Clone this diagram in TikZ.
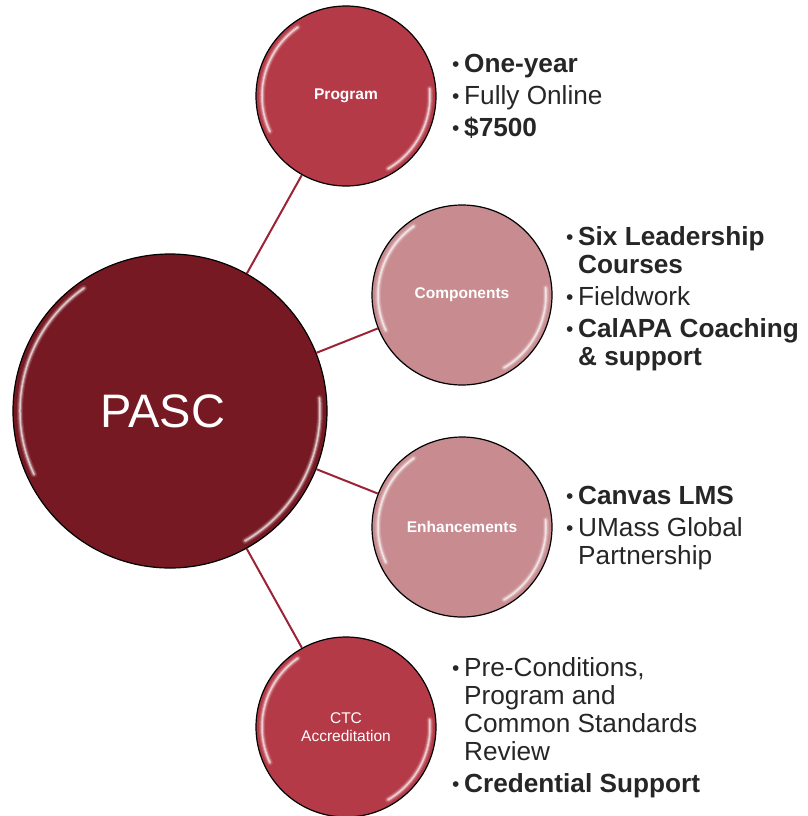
\documentclass[tikz,border=0pt]{standalone}
\usepackage{fontspec}
\setmainfont{Liberation Sans}
\usetikzlibrary{positioning}
\definecolor{maroon}{HTML}{761923}
\definecolor{rasp}{HTML}{B53A47}
\definecolor{dusty}{HTML}{C78B90}
\definecolor{linkred}{HTML}{9B2335}
\definecolor{ink}{HTML}{262626}
\newcommand\bul{\makebox[12pt][l]{\raisebox{1pt}{\fontsize{21}{21}\selectfont\textbullet}}}
\newcommand\ind{\hspace*{12pt}}
% white shine on the rim of a bubble: node, radius
\newcommand\gloss[2]{\foreach \w/\o in {6pt/.15,3.5pt/.3,1.5pt/.6} {\draw[shine, line width=\w, opacity=\o] ([shift={(125:#2)}]#1.center) arc (125:205:#2);\draw[shine, line width=\w, opacity=\o] ([shift={(-60:#2)}]#1.center) arc (-60:5:#2);}}
\tikzset{
  bubble/.style={circle, draw=black, line width=1.2pt, inner sep=0pt, text=white, align=center, minimum size=180pt, font=\fontsize{15.5}{18}\selectfont},
  shine/.style={white, line cap=round},
  link/.style={linkred, line width=2pt},
  list/.style={anchor=north west, inner sep=0pt, align=left, text=ink, font=\fontsize{26.2}{28}\selectfont}
}

\begin{document}
\begin{tikzpicture}[x=1pt,y=-1pt]
\useasboundingbox (0,0) rectangle (807,816);
\node[bubble, fill=maroon, minimum size=314pt, font=\fontsize{47}{50}\selectfont] (pasc) at (170,411) {PASC\hspace*{14pt}};
\node[bubble, fill=rasp, font=\fontsize{15.5}{18}\selectfont\bfseries] (prog) at (346,96) {Program};
\node[bubble, fill=dusty, font=\fontsize{15.5}{18}\selectfont\bfseries] (comp) at (462,295) {Components};
\node[bubble, fill=dusty, font=\fontsize{15.5}{18}\selectfont\bfseries] (enh) at (462,527) {Enhancements};
\node[bubble, fill=rasp] (ctc) at (346,727) {CTC\\Accreditation};
\foreach \b in {prog,comp,enh,ctc} {\draw[link] (pasc) -- (\b);}
\gloss{pasc}{150pt}
\gloss{prog}{84pt}
\gloss{comp}{84pt}
\gloss{enh}{84pt}
\gloss{ctc}{84pt}
% the lists
\node[list] (progtxt) at (452,52.4) {\strut\bul\textbf{One-year}\\[4pt]\bul Fully Online\\[4pt]\bul\textbf{\$7500}};
\node[list] (comptxt) at (566,225.4) {\strut\bul\textbf{Six Leadership}\\\ind\textbf{Courses}\\[4pt]\bul Fieldwork\\[4pt]\bul\textbf{CalAPA Coaching}\\\ind\textbf{\& support}};
\node[list] (enhtxt) at (566,484.4) {\strut\bul\textbf{Canvas LMS}\\[4pt]\bul UMass Global\\\ind Partnership};
\node[list] (ctctxt) at (452,656.4) {\strut\bul Pre-Conditions,\\\ind Program and\\\ind Common Standards\\\ind Review\\[4pt]\bul\textbf{Credential Support}};
\end{tikzpicture}
\end{document}
